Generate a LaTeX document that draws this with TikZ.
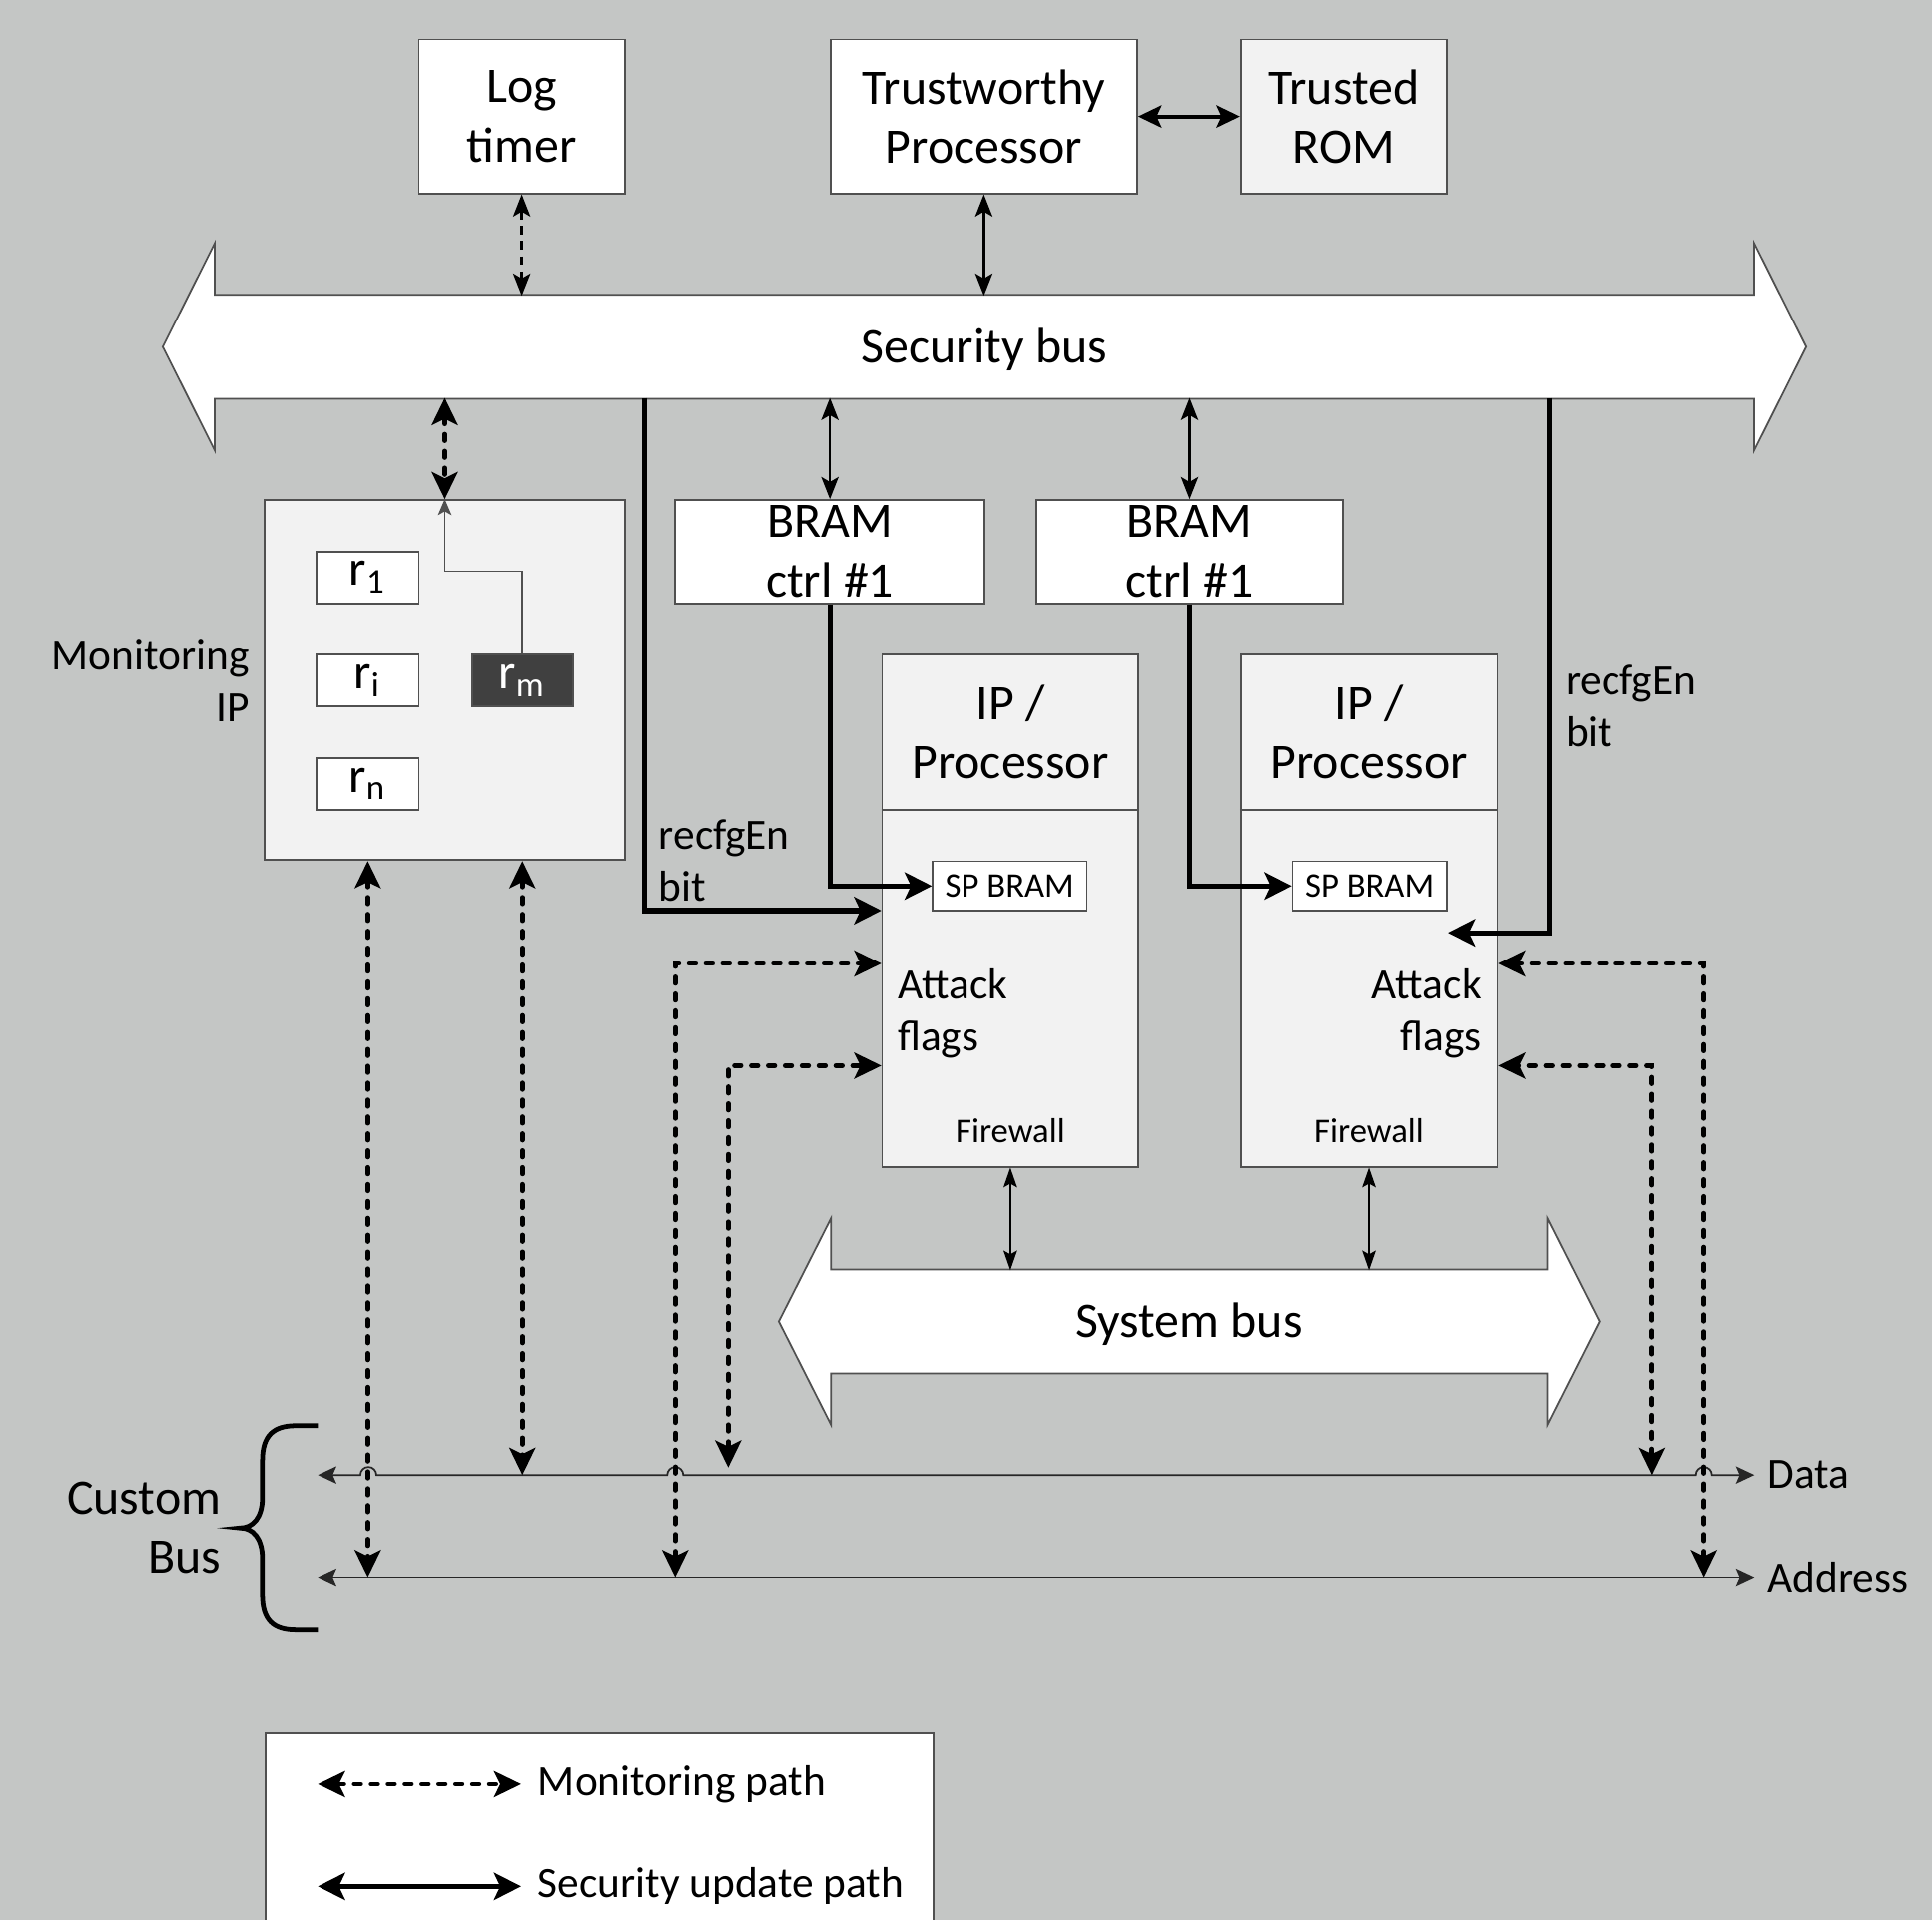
\documentclass[tikz,border=0pt]{standalone}
\usepackage{fontspec}
\setmainfont{Carlito}
\usepackage{tikz}
\usetikzlibrary{arrows.meta}
\usetikzlibrary{shapes.arrows}

\definecolor{bgray}{RGB}{196,198,197}
\definecolor{lgray}{RGB}{242,242,242}
\definecolor{dgray}{RGB}{64,64,64}
\definecolor{edge}{RGB}{80,80,80}
\newcommand{\fbig}{\fontsize{11.5pt}{13.7pt}\selectfont}
\newcommand{\fmid}{\fontsize{10pt}{12pt}\selectfont}
\newcommand{\ftiny}{\fontsize{8pt}{9.6pt}\selectfont}

\tikzset{
  blk/.style={draw=edge, line width=0.4pt, fill=white, inner sep=0pt, align=center, font=\fbig},
  bus/.style={double arrow, draw=edge, line width=0.4pt, fill=white, inner xsep=0pt, inner ysep=2.55mm,
    text height=2.9mm, text depth=0.3mm, font=\fbig},
  txt/.style={inner sep=0pt, font=\fmid},
  upd/.style={line width=1.2pt, ->, >={Stealth[length=2.2mm,width=2.2mm,inset=0.5mm]}},
  mon/.style={line width=1.1pt, line cap=round, dash pattern=on 1.5pt off 2.4pt, <->, >={Stealth[length=2.2mm,width=2.1mm,inset=0.5mm]}},
  monthin/.style={line width=0.6pt, dash pattern=on 2pt off 1.5pt, <->, >={Stealth[length=1.8mm,width=1.4mm,inset=0.4mm]}},
  link/.style={line width=0.6pt, <->, >={Stealth[length=1.8mm,width=1.4mm,inset=0.4mm]}},
  fwl/.style={line width=0.4pt, <->, >={Stealth[length=1.6mm,width=1.1mm,inset=0.3mm]}},
  busln/.style={line width=0.4pt, black!85, <->, >={Stealth[length=1.5mm,width=1.4mm,inset=0.3mm]}}
}

\begin{document}
\begin{tikzpicture}[x=0.1mm, y=-0.1mm]
  \useasboundingbox (0,0) rectangle (1568,1558);
  \clip (0,0) rectangle (1568,1558);
  \fill[bgray] (0,0) rectangle (1568,1558);

  % top row
  \node[blk, minimum width=16.7mm, minimum height=12.5mm] (logt) at (423.5,94.5) {Log\\timer};
  \node[blk, minimum width=24.9mm, minimum height=12.5mm] (tproc) at (798.5,94.5) {Trustworthy\\Processor};
  \node[blk, fill=lgray, minimum width=16.7mm, minimum height=12.5mm] (trom) at (1090.5,94.5) {Trusted\\ROM};

  % buses
  \node[bus, minimum height=133.4mm, minimum width=16.7mm, double arrow head extend=4.2mm, double arrow tip angle=126.7] (sbus) at (799,281.5) {Security bus};
  \coordinate (sbt) at (0,240);
  \coordinate (sbb) at (0,323);
  \node[bus, minimum height=66.6mm, minimum width=16.6mm, double arrow head extend=4.15mm, double arrow tip angle=126.3] (sysbus) at (965,1072.5) {System bus};
  \coordinate (syt) at (0,1031);

  % monitoring IP
  \node[blk, fill=lgray, minimum width=29.2mm, minimum height=29.2mm] (monip) at (361,552) {};
  \node[txt, anchor=east, align=right] (moniptxt) at (203,552) {Monitoring\\IP};
  \node[blk, minimum width=8.3mm, minimum height=4.2mm] (r1) at (298.5,469) {r\textsubscript{1}};
  \node[blk, minimum width=8.3mm, minimum height=4.2mm] (ri) at (298.5,552) {r\textsubscript{i}};
  \node[blk, minimum width=8.3mm, minimum height=4.2mm] (rn) at (298.5,636) {r\textsubscript{n}};
  \node[blk, fill=dgray, text=white, minimum width=8.2mm, minimum height=4.2mm] (rm) at (424,552) {r\textsubscript{m}};
  \draw[edge, line width=0.4pt, ->, >={Stealth[length=1.3mm,width=1.1mm,inset=0.3mm]}] (rm.north) -- (rm.north |- 0,464) -| (monip.north);

  % BRAM controllers
  \node[blk, minimum width=25.1mm, minimum height=8.4mm] (bram1) at (673.5,448) {BRAM\\ctrl \#1};
  \node[blk, minimum width=24.9mm, minimum height=8.4mm] (bram2) at (965.5,448) {BRAM\\ctrl \#1};

  % IP / processors
  \node[blk, fill=lgray, minimum width=20.8mm, minimum height=41.6mm] (ipl) at (820,739) {};
  \node[blk, fill=lgray, minimum width=20.8mm, minimum height=41.6mm] (ipr) at (1111,739) {};
  \draw[edge, line width=0.4pt] (ipl.west |- 0,657) -- (ipl.east |- 0,657);
  \draw[edge, line width=0.4pt] (ipr.west |- 0,657) -- (ipr.east |- 0,657);
  \node[inner sep=0pt, align=center, font=\fbig] (ipltxt) at (820,594) {IP /\\Processor};
  \node[inner sep=0pt, align=center, font=\fbig] (iprtxt) at (1111,594) {IP /\\Processor};
  \node[blk, font=\ftiny, minimum width=12.5mm, minimum height=4mm] (spl) at (819.5,719) {SP BRAM};
  \node[blk, font=\ftiny, minimum width=12.5mm, minimum height=4mm] (spr) at (1111.5,719) {SP BRAM};
  \node[txt, anchor=west, align=left] (afl) at (728,823) {Attack\\flags};
  \node[txt, anchor=east, align=right] (afr) at (1203,823) {Attack\\flags};
  \node[txt, font=\ftiny] (fwlt) at (820,918) {Firewall};
  \node[txt, font=\ftiny] (fwrt) at (1111,918) {Firewall};
  \node[txt, anchor=west, align=left] (rcl) at (534,698) {recfgEn\\bit};
  \node[txt, anchor=west, align=left] (rcr) at (1270,573) {recfgEn\\bit};

  % security bus links
  \draw[monthin] (logt.south) -- (logt.south |- sbt);
  \draw[link] (tproc.south) -- (tproc.south |- sbt);
  \draw[link, line width=0.9pt, >={Stealth[length=1.9mm,width=1.8mm,inset=0.4mm]}] (tproc.east) -- (trom.west);
  \draw[mon] (monip.north |- sbb) -- (monip.north);
  \draw[link] (bram1.north |- sbb) -- (bram1.north);
  \draw[link] (bram2.north |- sbb) -- (bram2.north);
  \coordinate (rfl) at (523,323);
  \coordinate (rfr) at (1257,323);
  \coordinate (rfrend) at (1175,757);
  \draw[upd] (rfl) |- (ipl.west);
  \draw[upd] (rfr) |- (rfrend);
  \draw[upd] (bram1.south) |- (spl.west);
  \draw[upd] (bram2.south) |- (spr.west);

  % system bus links
  \draw[fwl] (ipl.south) -- (ipl.south |- syt);
  \draw[fwl] (ipr.south) -- (ipr.south |- syt);

  % custom bus
  \coordinate (dl) at (258,1197);
  \coordinate (dr) at (1424,1197);
  \coordinate (al) at (258,1280);
  \coordinate (ar) at (1424,1280);
  \draw[busln] (dl) -- (292.5,1197) arc[start angle=180, end angle=0, radius=0.65mm]
    -- (541.5,1197) arc[start angle=180, end angle=0, radius=0.65mm]
    -- (1376.5,1197) arc[start angle=180, end angle=0, radius=0.65mm] -- (dr);
  \draw[busln] (al) -- (ar);
  \node[txt, anchor=west] (datat) at (1434,1197) {Data};
  \node[txt, anchor=west] (addrt) at (1434,1280) {Address};
  \draw[line width=1.1pt] (258,1157) -- (240,1157) .. controls (222,1157) and (213,1165) .. (213,1185)
    -- (213,1215) .. controls (213,1232) and (205,1240) .. (195,1240)
    .. controls (205,1240) and (213,1248) .. (213,1265)
    -- (213,1295) .. controls (213,1315) and (222,1323) .. (240,1323) -- (258,1323);
  \node[inner sep=0pt, anchor=east, align=right, font=\fbig] (cbus) at (180,1240) {Custom\\Bus};

  % monitoring paths
  \coordinate (m1) at (548,1280);
  \coordinate (m2) at (591,1191);
  \coordinate (m3) at (1383,1280);
  \coordinate (m4) at (1341,1197);
  \draw[mon] (r1.south |- monip.south) -- (r1.south |- al);
  \draw[mon] (rm.south |- monip.south) -- (rm.south |- dl);
  \draw[mon] (m1) |- (ipl.west |- 0,782);
  \draw[mon] (m2) |- (ipl.west |- 0,865);
  \draw[mon] (m3) |- (ipr.east |- 0,782);
  \draw[mon] (m4) |- (ipr.east |- 0,865);

  % legend
  \node[draw=edge, line width=0.4pt, fill=white, anchor=north west, minimum width=54.2mm, minimum height=22mm, inner sep=0pt] (leg) at (215,1406) {};
  \coordinate (lg1a) at (258,1448);
  \coordinate (lg1b) at (423,1448);
  \coordinate (lg2a) at (258,1531);
  \coordinate (lg2b) at (423,1531);
  \draw[mon] (lg1a) -- (lg1b);
  \draw[upd, <->] (lg2a) -- (lg2b);
  \node[txt, anchor=west] (lgt1) at (436,1448) {Monitoring path};
  \node[txt, anchor=west] (lgt2) at (436,1531) {Security update path};
\end{tikzpicture}
\end{document}
